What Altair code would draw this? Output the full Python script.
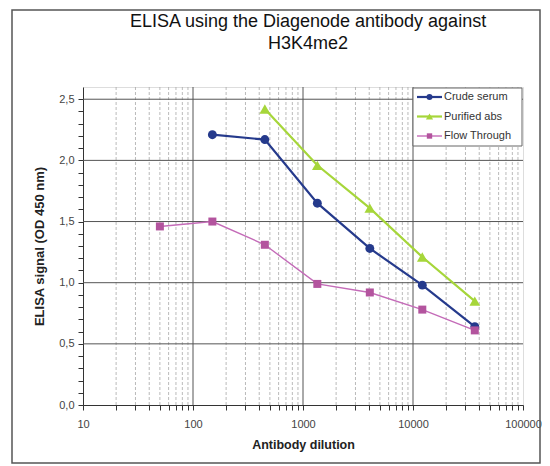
import altair as alt
import pandas as pd

title_lines = ["ELISA using the Diagenode antibody against", "H3K4me2"]
series_names = ["Crude serum", "Purified abs", "Flow Through"]
series_colors = ["#253A8C", "#A6D63A", "#C46BB8"]
marker_colors = ["#253A8C", "#A6D63A", "#B3549E"]
marker_shapes = ["circle", "triangle-up", "square"]
marker_sizes = [80, 115, 64]
line_widths = [2.2, 2.2, 1.4]

crude_x = [150, 450, 1350, 4050, 12150, 36450]
crude_y = [2.21, 2.17, 1.65, 1.28, 0.98, 0.64]
purified_x = [450, 1350, 4050, 12150, 36450]
purified_y = [2.42, 1.96, 1.61, 1.21, 0.85]
flow_x = [50, 150, 450, 1350, 4050, 12150, 36450]
flow_y = [1.46, 1.50, 1.31, 0.99, 0.92, 0.78, 0.61]

x_major = [10, 100, 1000, 10000, 100000]
x_minor = [k * d for d in [10, 100, 1000, 10000] for k in range(2, 10)]
y_major = [0.5, 1.0, 1.5, 2.0, 2.5]
y_ticks = [round(i * 0.1, 1) for i in range(26)]

FONT = "Liberation Sans"
W, H = 440, 318

xs = alt.Scale(type="log", domain=[10, 100000], nice=False)
ys = alt.Scale(domain=[0, 2.6], nice=False, zero=True)

x_axis = alt.Axis(
    title="Antibody dilution", values=x_major + x_minor, format="d",
    labelExpr="indexof([10,100,1000,10000,100000], datum.value) >= 0 ? datum.label : ''",
    grid=False, domain=True, domainColor="#333", tickColor="#333", tickSize=5,
    labelFont=FONT, labelFontSize=11, labelColor="#444", labelPadding=8,
    titleFont=FONT, titleFontSize=12.5, titleFontWeight="bold", titleColor="#222",
    titlePadding=9, labelFlush=False, labelOverlap=False,
)
y_axis = alt.Axis(
    title="ELISA signal (OD 450 nm)", values=y_ticks,
    labelExpr="abs(datum.value*2 - round(datum.value*2)) < 0.001 ? replace(format(datum.value, '.1f'), '.', ',') : ''",
    grid=False, domainColor="#333", tickColor="#333", tickSize=5,
    labelFont=FONT, labelFontSize=11, labelColor="#444", labelPadding=4,
    titleFont=FONT, titleFontSize=13, titleFontWeight="bold", titleColor="#222",
    titlePadding=12, labelOverlap=False,
)


def X(field):
    return alt.X(field, type="quantitative", scale=xs, axis=x_axis)


def Y(field):
    return alt.Y(field, type="quantitative", scale=ys, axis=y_axis)


dummy = pd.DataFrame({"a": [0]})

minor_grid = alt.Chart(pd.DataFrame({"x": x_minor})).mark_rule(
    color="#a8a8a8", strokeDash=[3, 2], strokeWidth=0.8
).encode(x=X("x"))
major_grid = alt.Chart(pd.DataFrame({"x": x_major[1:-1]})).mark_rule(
    color="#555", strokeWidth=1
).encode(x=X("x"))
h_grid = alt.Chart(pd.DataFrame({"y": y_major})).mark_rule(
    color="#555", strokeWidth=1
).encode(y=Y("y"))

frame = alt.Chart(dummy).mark_rect(fill=None, stroke="#555", strokeWidth=1.5).encode(
    x=alt.value(-71), x2=alt.value(457), y=alt.value(-77), y2=alt.value(376)
)

title_layers = []
for j, line in enumerate(title_lines):
    title_layers.append(alt.Chart(pd.DataFrame({"t": [line]})).mark_text(
        align="center", baseline="middle", font=FONT, fontSize=18, color="#111"
    ).encode(x=alt.value(225), y=alt.value(-65 + j * 22), text="t:N"))

series_x = [crude_x, purified_x, flow_x]
series_y = [crude_y, purified_y, flow_y]
layers = [frame, minor_grid, major_grid, h_grid] + title_layers
for i in range(3):
    df = pd.DataFrame({"x": series_x[i], "y": series_y[i]})
    base = alt.Chart(df)
    layers.append(base.mark_line(color=series_colors[i], strokeWidth=line_widths[i]).encode(x=X("x"), y=Y("y")))
    layers.append(base.mark_point(
        filled=True, opacity=1, color=marker_colors[i], shape=marker_shapes[i], size=marker_sizes[i]
    ).encode(x=X("x"), y=Y("y")))

# legend
lx0, lx1, ly0, ly1 = 330, 439, 1, 59
layers.append(alt.Chart(dummy).mark_rect(fill="white", stroke="#666", strokeWidth=1).encode(
    x=alt.value(lx0), x2=alt.value(lx1), y=alt.value(ly0), y2=alt.value(ly1)))
for i in range(3):
    yy = 10 + i * 19.5
    layers.append(alt.Chart(dummy).mark_rule(color=series_colors[i], strokeWidth=line_widths[i]).encode(
        x=alt.value(lx0 + 4), x2=alt.value(lx0 + 29), y=alt.value(yy)))
    layers.append(alt.Chart(dummy).mark_point(
        filled=True, opacity=1, color=marker_colors[i], shape=marker_shapes[i], size=marker_sizes[i] * 0.45
    ).encode(x=alt.value(lx0 + 16.5), y=alt.value(yy)))
    layers.append(alt.Chart(pd.DataFrame({"t": [series_names[i]]})).mark_text(
        align="left", baseline="middle", font=FONT, fontSize=11, color="#333"
    ).encode(x=alt.value(lx0 + 31), y=alt.value(yy), text="t:N"))

chart = alt.layer(*layers).properties(
    width=W, height=H,
    autosize=alt.AutoSizeParams(type="none"),
    padding={"left": 75, "top": 79, "right": 19, "bottom": 62},
).configure_view(stroke="#444", strokeWidth=1).configure(background="white")

chart.save("out.html", embed_options={"renderer": "svg", "actions": False})
